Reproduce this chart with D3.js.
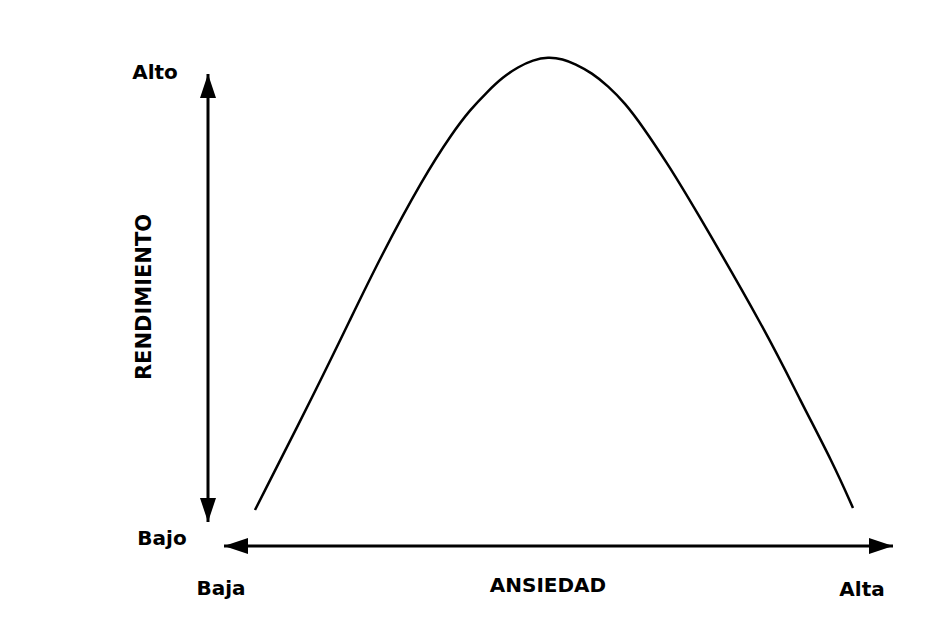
<!DOCTYPE html>
<html>
<head>
<meta charset="utf-8">
<script src="https://cdn.jsdelivr.net/npm/d3@7"></script>
<style>
	body { margin: 0; background: #fff; }
	text { font-family: "DejaVu Sans", sans-serif; font-weight: bold; fill: #000; }
</style>
</head>
<body>
<div id="chart"></div>
<script>
let width = 947,
	height = 633;

// curve (ansiedad 0-100, rendimiento 0-100)
let ansiedad = [4.63, 13.9, 18.83, 23.32, 29.75, 34.23, 36.77, 39.31, 41.7, 43.95, 46.19, 48.43, 50.67, 52.47, 55.01, 57.4, 59.94, 62.63, 66.22, 69.66, 81.17, 86.1, 91.03, 94.02];
let rendimiento = [7.36, 32.31, 46.22, 58.9, 75.26, 84.66, 89.16, 92.84, 95.91, 97.96, 99.39, 100, 99.59, 98.57, 96.73, 94.07, 90.59, 85.69, 78.32, 70.76, 43.56, 29.86, 16.97, 7.77];

let yLabels = ["Bajo", "Alto"];
let xLabels = ["Baja", "Alta"];
let yTitle = "RENDIMIENTO";
let xTitle = "ANSIEDAD";

let svg = d3.select('#chart').append('svg')
	.attr('width', width)
	.attr('height', height)

let x = d3.scaleLinear()
	.domain([0, 100])
	.range([224, 893]);

let y = d3.scaleLinear()
	.domain([0, 100])
	.range([546, 57]);

// arrow heads
let defs = svg.append('defs');
defs.append('marker')
	.attr('id', 'head')
	.attr('viewBox', '0 0 24 16')
	.attr('refX', 24)
	.attr('refY', 8)
	.attr('markerWidth', 24)
	.attr('markerHeight', 16)
	.attr('markerUnits', 'userSpaceOnUse')
	.attr('orient', 'auto-start-reverse')
	.append('path')
	.attr('d', 'M0,0 L24,8 L0,16 Z')
	.attr('fill', '#000');

// vertical axis (rendimiento)
let axisX = 208;
svg.append('line')
	.attr('x1', axisX).attr('x2', axisX)
	.attr('y1', 522).attr('y2', 74)
	.attr('stroke', '#000')
	.attr('stroke-width', 3)
	.attr('marker-start', 'url(#head)')
	.attr('marker-end', 'url(#head)');

// horizontal axis (ansiedad)
svg.append('line')
	.attr('x1', x(0)).attr('x2', x(100))
	.attr('y1', y(0)).attr('y2', y(0))
	.attr('stroke', '#000')
	.attr('stroke-width', 3)
	.attr('marker-start', 'url(#head)')
	.attr('marker-end', 'url(#head)');

// the curve
let points = ansiedad.map(function (d, i) {
	return [d, rendimiento[i]];
});

let line = d3.line()
	.x(function (d) { return x(d[0]) })
	.y(function (d) { return y(d[1]) })
	.curve(d3.curveBasis);

svg.append('path')
	.datum(points)
	.attr('d', line)
	.attr('fill', 'none')
	.attr('stroke', '#000')
	.attr('stroke-width', 2.5);

// labels
svg.append('text').text(yLabels[1])
	.attr('x', 155).attr('y', 79)
	.attr('text-anchor', 'middle')
	.style('font-size', '20px');

svg.append('text').text(yLabels[0])
	.attr('x', 162).attr('y', 545)
	.attr('text-anchor', 'middle')
	.style('font-size', '20px');

svg.append('text').text(xLabels[0])
	.attr('x', 221).attr('y', 595)
	.attr('text-anchor', 'middle')
	.style('font-size', '20px');

svg.append('text').text(xLabels[1])
	.attr('x', 862).attr('y', 596)
	.attr('text-anchor', 'middle')
	.style('font-size', '20px');

svg.append('text').text(xTitle)
	.attr('x', 548).attr('y', 592)
	.attr('text-anchor', 'middle')
	.style('font-size', '20px');

svg.append('text').text(yTitle)
	.attr('transform', 'translate(151,297) rotate(-90)')
	.attr('text-anchor', 'middle')
	.style('font-size', '21px');
</script>
</body>
</html>
